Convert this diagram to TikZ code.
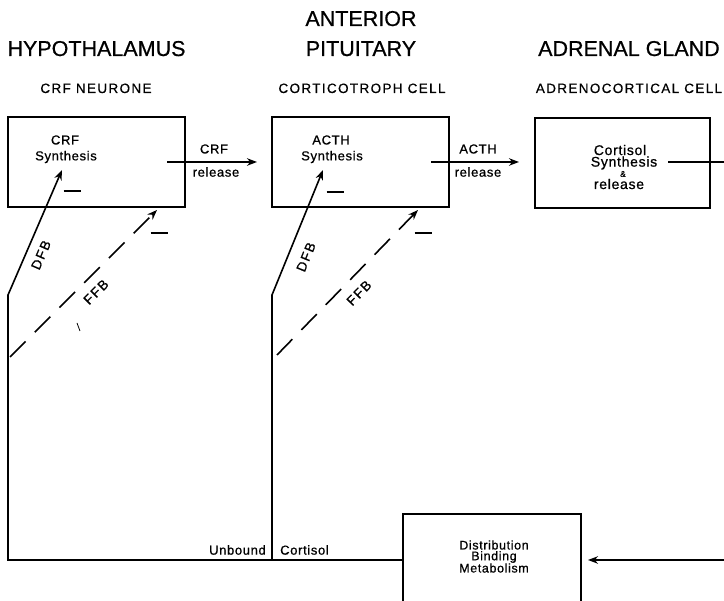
\documentclass[tikz,border=0pt]{standalone}
\usepackage{fontspec}
\setmainfont{Liberation Sans}
\newfontfamily\headf[FakeBold=0.6]{Liberation Sans}
\newfontfamily\subf[LetterSpace=10,FakeBold=0.5]{Liberation Sans}
\newfontfamily\boxf[LetterSpace=5,FakeBold=0.8]{Liberation Sans}
\newfontfamily\lblf[LetterSpace=12,FakeBold=0.8]{Liberation Sans}
\usetikzlibrary{arrows.meta}
\begin{document}
\begin{tikzpicture}[x=1pt,y=-1pt,
  box/.style={draw, line width=2.3pt, inner sep=0pt},
  conn/.style={line width=1.6pt},
  tip/.style={-{Stealth[length=10pt,width=7.5pt]}},
  ffbline/.style={conn, dash pattern=on 22pt off 13pt},
  head/.style={font=\headf\fontsize{21.5}{24}\selectfont, inner sep=0pt, anchor=base},
  subt/.style={font=\subf\fontsize{13.5}{16}\selectfont, inner sep=0pt, anchor=base},
  lab/.style={font=\boxf\fontsize{13}{15}\selectfont, inner sep=0pt},
  labbig/.style={font=\boxf\fontsize{14}{16}\selectfont, inner sep=0pt},
  labsmall/.style={font=\boxf\fontsize{12.5}{14}\selectfont, inner sep=0pt},
  fbl/.style={font=\lblf\fontsize{13.5}{16}\selectfont, inner sep=0pt},
  minus/.style={inner sep=0pt}
]
\clip (0,0) rectangle (724,601);
\fill[white] (0,0) rectangle (724,601);

% headings
\node[head] (h1) at (96.5,56) {HYPOTHALAMUS};
\node[head] (h2a) at (361,26) {ANTERIOR};
\node[head] (h2b) at (361,56) {PITUITARY};
\node[head] (h3) at (629,56) {ADRENAL GLAND};
\node[subt] (s1) at (96,93) {CRF NEURONE};
\node[subt] (s2) at (362,93) {CORTICOTROPH CELL};
\node[subt] (s3) at (629,93) {ADRENOCORTICAL CELL};

% boxes
\node[box, minimum width=177pt, minimum height=90pt] (b1) at (96.5,162) {};
\node[box, minimum width=177pt, minimum height=90pt] (b2) at (360.5,162) {};
\node[box, minimum width=175pt, minimum height=90pt] (b3) at (622.5,163) {};
\node[box, minimum width=178pt, minimum height=92pt] (b4) at (492,560) {};

% box texts
\node[lab] (t1a) at (65,140) {CRF};
\node[lab] (t1b) at (66,157) {Synthesis};
\node[lab] (t2a) at (331,140) {ACTH};
\node[lab] (t2b) at (332,157) {Synthesis};
\node[labbig] (t3a) at (620,150) {Cortisol};
\node[labbig] (t3b) at (624,163) {Synthesis};
\node[font=\boxf\fontsize{8.5}{9}\selectfont, inner sep=0pt] (t3c) at (623,174) {\&};
\node[labbig] (t3d) at (619,184) {release};
\node[labsmall] (t4a) at (494,545) {Distribution};
\node[labsmall] (t4b) at (494,557) {Binding};
\node[labsmall] (t4c) at (494,568) {Metabolism};

% minus signs
\node[minus] (m1) at (72,191) {\rule{17pt}{1.5pt}};
\node[minus] (m2) at (159,233) {\rule{17pt}{1.5pt}};
\node[minus] (m3) at (335,192) {\rule{17pt}{1.5pt}};
\node[minus] (m4) at (423,233) {\rule{17pt}{1.5pt}};

% release arrows
\coordinate (r1s) at (167,162);
\coordinate (r1e) at (257,162);
\coordinate (r2s) at (431,162);
\coordinate (r2e) at (519,162);
\coordinate (r3s) at (668,162);
\coordinate (r3e) at (730,162);
\draw[conn,tip] (r1s) -- (r1e);
\draw[conn,tip] (r2s) -- (r2e);
\draw[conn] (r3s) -- (r3e);
\node[lab] (l1a) at (214,149) {CRF};
\node[lab] (l1b) at (216,172) {release};
\node[lab] (l2a) at (478,149) {ACTH};
\node[lab] (l2b) at (478,172) {release};

% feedback paths
\coordinate (c1) at (8,560);
\coordinate (c1t) at (8,295);
\coordinate (d1) at (62,170);
\coordinate (c2) at (272,560);
\coordinate (c2t) at (272,295);
\coordinate (d2) at (323,170);
\coordinate (f1s) at (10,357);
\coordinate (f1e) at (157,210);
\coordinate (f2s) at (277,355);
\coordinate (f2e) at (418,210);
\coordinate (rin) at (730,560);
\coordinate (rtip) at (588,560);

\draw[conn,tip] (b4.west) -- (c1) -- (c1t) -- (d1);
\draw[conn,tip] (c2) -- (c2t) -- (d2);
\draw[ffbline,tip] (f1s) -- (f1e);
\draw[ffbline,tip] (f2s) -- (f2e);
\draw[conn,tip] (rin) -- (rtip);
\draw[line width=0.8pt] (77,323) -- (80,331);

% feedback labels
\node[fbl, rotate=66.6] (dfb1) at (41,255) {DFB};
\node[fbl, rotate=45] (ffb1) at (96,292) {FFB};
\node[fbl, rotate=67.8] (dfb2) at (306,257) {DFB};
\node[fbl, rotate=45.8] (ffb2) at (359,293) {FFB};

% unbound cortisol
\node[lab, anchor=east] (ub) at (266,550) {Unbound};
\node[lab, anchor=west] (co) at (280,550) {Cortisol};
\end{tikzpicture}
\end{document}
